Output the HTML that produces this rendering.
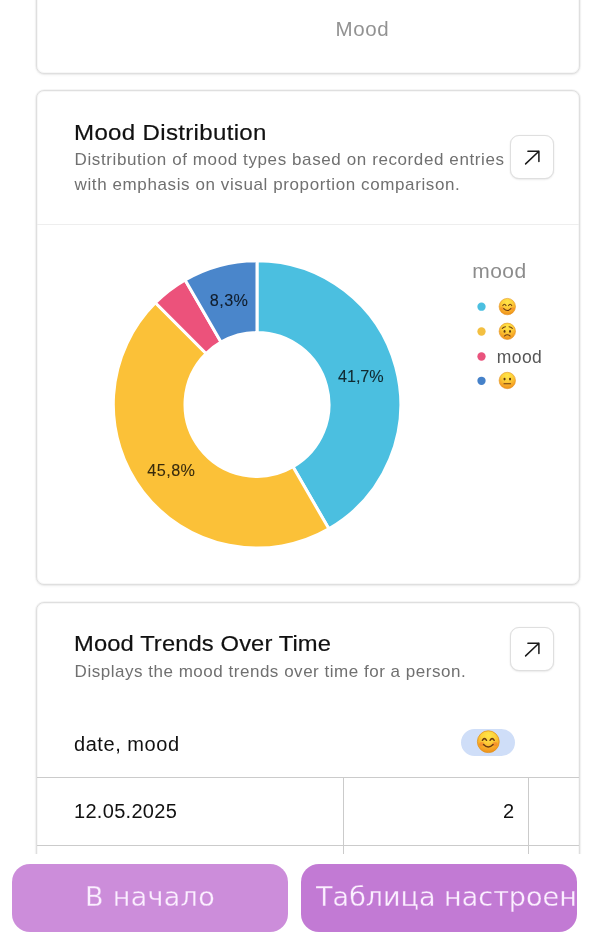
<!DOCTYPE html>
<html lang="ru">
<head>
<meta charset="utf-8">
<meta name="viewport" content="width=600, initial-scale=1">
<title>Mood dashboard</title>
<style>
  * { box-sizing: border-box; }
  html, body { margin: 0; padding: 0; }
  body {
    width: 600px; height: 940px; overflow: hidden; position: relative;
    background: #ffffff;
    font-family: "Liberation Sans", sans-serif;
    color: #111;
    -webkit-font-smoothing: antialiased;
  }
  .card {
    position: absolute; left: 36px; width: 544px;
    background: #fff;
    border: 1px solid #dfdfdf;
    border-radius: 8px;
    box-shadow: 0 0 0 1px rgba(0,0,0,0.03), inset 0 0 0 1px rgba(0,0,0,0.03), 0 1px 3px rgba(0,0,0,0.06);
  }
  #card-prev { top: -60px; height: 134px; }
  #card-dist { top: 90px; height: 495px; }
  #card-trend { top: 602px; height: 400px; }

  .axis-title {
    position: absolute; left: 0; top: 0; margin: 0;
    font-size: 20.5px; line-height: 24px; color: #929292; font-weight: 400; letter-spacing: 0.6px;
    white-space: nowrap;
  }
  .card h2 {
    position: absolute; margin: 0; left: 37.4px;
    font-size: 22.5px; line-height: 28px; font-weight: 400; letter-spacing: 0.3px;
    transform: scaleX(1.07); transform-origin: 0 50%;
    color: #111; white-space: nowrap;
    -webkit-text-stroke: 0.2px #111;
  }
  .card p.desc {
    position: absolute; margin: 0; left: 37.6px;
    font-size: 17px; line-height: 25px; letter-spacing: 0.6px;
    color: #707070; white-space: nowrap;
  }
  .open-btn {
    position: absolute; left: 473px; width: 44px; height: 44px; padding: 0;
    background: #fff; border: 1px solid #dfdfdf; border-radius: 9px;
    box-shadow: 0 1px 2px rgba(0,0,0,0.08), 0 0 1px rgba(0,0,0,0.08);
    display: block;
  }
  .open-btn svg { position: absolute; left: -1px; top: -1px; }
  .sep { position: absolute; left: 0; right: 0; height: 1px; background: #eeeeee; }

  .chart { position: absolute; left: 0; top: 0; }

  .chart text { font-family: "Liberation Sans", sans-serif; font-size: 16.2px; letter-spacing: 0.45px; fill: rgba(0,0,0,0.78); stroke: rgba(0,0,0,0.78); stroke-width: 0.1px; }
  .chart .lg-title { font-size: 21px; letter-spacing: 0.5px; fill: #8c8c8c; stroke: none; }
  .chart .lg-label { font-size: 17.5px; letter-spacing: 0.4px; fill: #555; stroke: none; }

  table.grid { position: absolute; left: 0; top: 0; border-collapse: collapse; table-layout: fixed; width: 542px; font-size: 20px; color: #111; }
  table.grid th, table.grid td { padding: 0; font-weight: 400; text-align: left; white-space: nowrap; letter-spacing: 0.3px; }
  table.grid thead th { height: 68px; border-bottom: 1px solid #cbcbcb; position: relative; }
  table.grid tbody td { height: 68px; border-bottom: 1px solid #cbcbcb; border-right: 1px solid #cbcbcb; position: relative; }
  table.grid tbody td:last-child { border-right: 0; }
  table.grid .c1 { padding-left: 37px; }
  table.grid .num { text-align: right; padding-right: 13px; }
  .pill { position: absolute; right: 13px; top: 20px; width: 54px; height: 27px; border-radius: 14px; background: #cfdef8; display: block; }

  .bottom-bar {
    position: absolute; left: 0; top: 854px; width: 600px; height: 86px;
    background: #fff;
  }
  .bottom-bar button {
    position: absolute; top: 10px; height: 68px; width: 276px;
    border: 0; border-radius: 18px; padding: 0; margin: 0;
    font-family: "DejaVu Sans", "Liberation Sans", sans-serif;
    font-size: 27px; font-weight: 400; color: #fbefff;
    white-space: nowrap; overflow: hidden; text-align: center;
  }
  .bottom-bar button span {
    position: absolute; top: 15.5px; height: 34px; line-height: 34px;
    white-space: nowrap; overflow: hidden; display: block;
  }
  #btn-home { left: 12px; background: #cc8dda; }
  #btn-home span { -webkit-text-stroke: 0.3px #cc8dda; left: 0; width: 276px; text-align: center; letter-spacing: 0.3px; }
  #btn-table { left: 301px; background: #c27ad4; }
  #btn-table span { -webkit-text-stroke: 0.3px #c27ad4; left: 15.1px; width: 259.2px; text-align: left; }
</style>
</head>
<body>

<section class="card" id="card-prev">
  <div class="axis-title" style="left:298.5px; top:76px;">Mood</div>
</section>

<section class="card" id="card-dist">
  <h2 style="top:28px;">Mood Distribution</h2>
  <p class="desc" style="top:56px;">Distribution of mood types based on recorded entries<br>with emphasis on visual proportion comparison.</p>
  <button class="open-btn" style="top:44px;" aria-label="Open">
    <svg width="44" height="44" viewBox="0 0 44 44"><path d="M15.6 28.9 L28.9 16.2 M17.9 16.2 H28.9 V26.6" fill="none" stroke="#1a1a1a" stroke-width="1.5" stroke-linecap="round" stroke-linejoin="round"/></svg>
  </button>
  <div class="sep" style="top:133px;"></div>
  <svg class="chart" role="img" aria-label="Mood distribution donut chart" style="top:134px;" width="542" height="358" viewBox="37 225 542 358">
    <path d="M257.00 260.70A143.7 143.7 0 0 1 328.85 528.85L293.00 466.75A72.0 72.0 0 0 0 257.00 332.40Z" fill="#4bbfe0" stroke="#fff" stroke-width="3" stroke-linejoin="round"/>
    <path d="M328.85 528.85A143.7 143.7 0 0 1 155.39 302.79L206.09 353.49A72.0 72.0 0 0 0 293.00 466.75Z" fill="#fbc138" stroke="#fff" stroke-width="3" stroke-linejoin="round"/>
    <path d="M155.39 302.79A143.7 143.7 0 0 1 185.15 279.95L221.00 342.05A72.0 72.0 0 0 0 206.09 353.49Z" fill="#ec527b" stroke="#fff" stroke-width="3" stroke-linejoin="round"/>
    <path d="M185.15 279.95A143.7 143.7 0 0 1 257.00 260.70L257.00 332.40A72.0 72.0 0 0 0 221.00 342.05Z" fill="#4a86cb" stroke="#fff" stroke-width="3" stroke-linejoin="round"/>
    <text x="360.8" y="382.3" text-anchor="middle" style="letter-spacing:-0.1px">41,7%</text>
    <text x="171.4" y="475.9" text-anchor="middle">45,8%</text>
    <text x="229.1" y="306.0" text-anchor="middle">8,3%</text>
    <radialGradient id="faceGrad" cx="0.5" cy="0.22" r="0.85"><stop offset="0" stop-color="#ffe548"/><stop offset="0.38" stop-color="#fdd03a"/><stop offset="0.75" stop-color="#f6a224"/><stop offset="1" stop-color="#e58919"/></radialGradient>
    <text class="lg-title" x="472.2" y="277.6">mood</text>
    <circle cx="481.5" cy="306.7" r="4.15" fill="#4bbfe0"/>
    <g class="emo" role="img" aria-label="😊" transform="translate(498.80 298.10) scale(0.4722)"><title>😊</title><circle cx="18" cy="18" r="17.4" fill="url(#faceGrad)" stroke="#e2911c" stroke-width="1.2"/><ellipse cx="7.6" cy="22" rx="4.2" ry="3.4" fill="#f2662d" fill-opacity="0.3"/><ellipse cx="28.4" cy="22" rx="4.2" ry="3.4" fill="#f2662d" fill-opacity="0.3"/><path d="M8.6 15.8Q11.9 10.4 15.2 15.8M20.8 15.8Q24.1 10.4 27.4 15.8M10.4 22.4Q18 30.2 25.6 22.4" fill="none" stroke="#6d3d12" stroke-width="2.4" stroke-linecap="round" stroke-linejoin="round"/></g>
    <circle cx="481.5" cy="331.5" r="4.15" fill="#f3bf40"/>
    <g class="emo" role="img" aria-label="😟" transform="translate(498.80 322.80) scale(0.4722)"><title>😟</title><circle cx="18" cy="18" r="17.4" fill="url(#faceGrad)" stroke="#e2911c" stroke-width="1.2"/><ellipse cx="12.2" cy="18.2" rx="2.1" ry="2.7" fill="#5f3711"/><ellipse cx="23.8" cy="18.2" rx="2.1" ry="2.7" fill="#5f3711"/><path d="M7.4 12Q10.4 8.8 14.4 8.4M28.6 12Q25.6 8.8 21.6 8.4M11.8 28Q18 22.4 24.2 28" fill="none" stroke="#6d3d12" stroke-width="2.2" stroke-linecap="round" stroke-linejoin="round"/></g>
    <circle cx="481.5" cy="356.5" r="4.15" fill="#e9537d"/>
    <text class="lg-label" x="496.8" y="362.7">mood</text>
    <circle cx="481.5" cy="380.8" r="4.15" fill="#4581c9"/>
    <g class="emo" role="img" aria-label="😐" transform="translate(498.80 372.00) scale(0.4722)"><title>😐</title><circle cx="18" cy="18" r="17.4" fill="url(#faceGrad)" stroke="#e2911c" stroke-width="1.2"/><ellipse cx="12.2" cy="15" rx="2.2" ry="2.9" fill="#5f3711"/><ellipse cx="23.8" cy="15" rx="2.2" ry="2.9" fill="#5f3711"/><path d="M11 25H25" fill="none" stroke="#6d3d12" stroke-width="2.3" stroke-linecap="round"/></g>
  </svg>
</section>

<section class="card" id="card-trend">
  <h2 style="top:27px; letter-spacing:0.1px; transform:scaleX(1.056);">Mood Trends Over Time</h2>
  <p class="desc" style="top:56.2px; letter-spacing:0.52px;">Displays the mood trends over time for a person.</p>
  <button class="open-btn" style="top:24px;" aria-label="Open">
    <svg width="44" height="44" viewBox="0 0 44 44"><path d="M15.6 28.9 L28.9 16.2 M17.9 16.2 H28.9 V26.6" fill="none" stroke="#1a1a1a" stroke-width="1.5" stroke-linecap="round" stroke-linejoin="round"/></svg>
  </button>
  <table class="grid" style="top:106px;">
    <colgroup><col style="width:306px"><col style="width:185px"><col style="width:51px"></colgroup>
    <thead>
      <tr><th class="c1" style="letter-spacing:0.55px; padding-top:4px;">date, mood</th><th><span class="pill"><svg width="54" height="27" viewBox="0 0 54 27" style="position:absolute;left:0;top:0;"><g class="emo" role="img" aria-label="😊" transform="translate(16.00 1.40) scale(0.6278)"><title>😊</title><circle cx="18" cy="18" r="17.4" fill="url(#faceGrad)" stroke="#e2911c" stroke-width="1.2"/><ellipse cx="7.6" cy="22" rx="4.2" ry="3.4" fill="#f2662d" fill-opacity="0.42"/><ellipse cx="28.4" cy="22" rx="4.2" ry="3.4" fill="#f2662d" fill-opacity="0.42"/><path d="M8.6 15.8Q11.9 10.4 15.2 15.8M20.8 15.8Q24.1 10.4 27.4 15.8M10.4 22.4Q18 30.2 25.6 22.4" fill="none" stroke="#6d3d12" stroke-width="2.4" stroke-linecap="round" stroke-linejoin="round"/></g></svg></span></th><th></th></tr>
    </thead>
    <tbody>
      <tr><td class="c1">12.05.2025</td><td class="num">2</td><td></td></tr>
      <tr><td class="c1"></td><td class="num"></td><td></td></tr>
    </tbody>
  </table>
</section>

<nav class="bottom-bar">
  <button id="btn-home"><span>В начало</span></button>
  <button id="btn-table"><span>Таблица настроений</span></button>
</nav>

</body>
</html>
